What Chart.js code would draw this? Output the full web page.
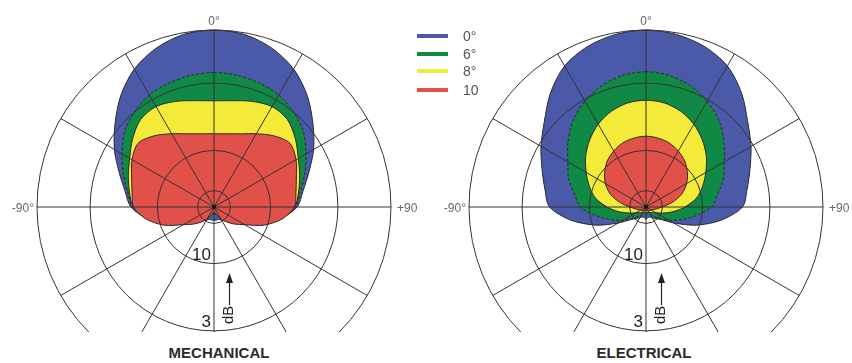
<!DOCTYPE html>
<html>
<head>
<meta charset="utf-8">
<script src="https://cdn.jsdelivr.net/npm/chart.js@4"></script>
<style>
body { margin: 0; background: #fff; font-family: "Liberation Sans", Arial, sans-serif; }
#wrap { position: relative; width: 852px; height: 363px; overflow: hidden; }
.clip { position: absolute; top: 0; height: 332px; overflow: hidden; }
.legend { position: absolute; left: 417px; top: 0; z-index: 5; }
.legend div { position: absolute; white-space: nowrap; }
.sw { width: 31px; height: 4px; }
.lt { left: 46px; font-size: 14px; line-height: 14px; color: #555; }
.title { position: absolute; top: 344px; width: 200px; text-align: center; font-weight: bold; font-size: 15px; color: #2b2b2b; }
</style>
</head>
<body>
<div id="wrap">
  <div class="clip" style="left:0;width:430px"><canvas id="mech" width="430" height="420"></canvas></div>
  <div class="clip" style="left:430px;width:422px"><canvas id="elec" width="422" height="420"></canvas></div>
  <div class="legend" id="legend"></div>
  <div class="title" style="left:119px">MECHANICAL</div>
  <div class="title" style="left:544px">ELECTRICAL</div>
</div>
<script>
// angles round the plot, 0 at top, clockwise (+90 on the right)
const angles = [0,10,20,30,40,50,60,70,80,90,100,110,120,130,140,150,160,170,
                180,190,200,210,220,230,240,250,260,270,280,290,300,310,320,330,340,350];

// relative level (linear, 1 = 0 dB at outer ring)
const mech0 = [1.0,0.99,0.955,0.9,0.82,0.73,0.65,0.57,0.51,0.47,0.38,0.28,0.19,0.14,0.10,0.085,0.075,0.075,
               0.075,0.075,0.075,0.085,0.10,0.14,0.19,0.28,0.38,0.47,0.51,0.57,0.65,0.73,0.82,0.9,0.955,0.99];
const mech6 = [0.76,0.755,0.745,0.73,0.70,0.66,0.60,0.545,0.495,0.46,0.37,0.27,0.18,0.13,0.09,0.06,0.045,0.04,
               0.04,0.04,0.045,0.06,0.09,0.13,0.18,0.27,0.37,0.46,0.495,0.545,0.60,0.66,0.70,0.73,0.745,0.755];
const mech8 = [0.60,0.61,0.635,0.655,0.645,0.60,0.55,0.515,0.485,0.455,0.36,0.26,0.17,0.12,0.08,0.055,0.04,0.035,
               0.035,0.035,0.04,0.055,0.08,0.12,0.17,0.26,0.36,0.455,0.485,0.515,0.55,0.60,0.645,0.655,0.635,0.61];
const mech10 = [0.414,0.42,0.44,0.478,0.525,0.56,0.535,0.495,0.47,0.455,0.39,0.30,0.20,0.15,0.11,0.08,0.05,0.035,
                0.03,0.035,0.05,0.08,0.11,0.15,0.20,0.30,0.39,0.455,0.47,0.495,0.535,0.56,0.525,0.478,0.44,0.42];

const elec0 = [1.0,0.99,0.965,0.92,0.84,0.75,0.685,0.625,0.58,0.545,0.43,0.30,0.18,0.11,0.085,0.07,0.06,0.06,
               0.07,0.06,0.06,0.07,0.085,0.11,0.18,0.30,0.43,0.545,0.58,0.625,0.685,0.75,0.84,0.92,0.965,0.99];
const elec6 = [0.764,0.755,0.73,0.69,0.64,0.575,0.51,0.465,0.41,0.37,0.285,0.21,0.15,0.10,0.07,0.05,0.04,0.04,
               0.04,0.04,0.04,0.05,0.07,0.10,0.15,0.21,0.285,0.37,0.41,0.465,0.51,0.575,0.64,0.69,0.73,0.755];
const elec8 = [0.603,0.597,0.575,0.54,0.495,0.445,0.39,0.34,0.29,0.22,0.155,0.10,0.065,0.05,0.04,0.035,0.03,0.03,
               0.03,0.03,0.03,0.035,0.04,0.05,0.065,0.10,0.155,0.22,0.29,0.34,0.39,0.445,0.495,0.54,0.575,0.597];
const elec10 = [0.40,0.395,0.385,0.365,0.34,0.305,0.265,0.215,0.15,0.09,0.06,0.045,0.035,0.03,0.03,0.025,0.02,0.02,
                0.02,0.02,0.02,0.025,0.03,0.03,0.035,0.045,0.06,0.09,0.15,0.215,0.265,0.305,0.34,0.365,0.385,0.395];

const seriesNames = ['0°', '6°', '8°', '10'];
const seriesColors = ['#4a5aa9', '#0f8944', '#f4ea3a', '#e2504a'];

// rings: 0 dB, 3 dB, 10 dB, 20 dB
const ringValues = [0, 0.093, 0.32, 0.70, 1];
const ringLabels = [['10', 0.32], ['3', 0.70]];

// legend
const legend = document.getElementById('legend');
const legendY = [36, 54, 71, 90];
seriesNames.forEach((n, i) => {
  legend.insertAdjacentHTML('beforeend',
    `<div class="sw" style="top:${legendY[i]-2}px;background:${seriesColors[i]}"></div>` +
    `<div class="lt" style="top:${legendY[i]-7}px">${n}</div>`);
});

const labelPlugin = {
  id: 'polarText',
  afterDraw(chart) {
    const s = chart.scales.r;
    const ctx = chart.ctx;
    const cx = s.xCenter, cy = s.yCenter, R = s.drawingArea;
    ctx.save();
    ctx.fillStyle = '#111';
    ctx.beginPath();
    ctx.arc(cx, cy, 2, 0, Math.PI * 2);
    ctx.fill();

    ctx.fillStyle = '#666';
    ctx.font = '12px "Liberation Sans", Arial, sans-serif';
    ctx.textAlign = 'center';
    ctx.textBaseline = 'bottom';
    ctx.fillText('0°', cx, cy - R - 2);
    ctx.textBaseline = 'middle';
    ctx.textAlign = 'right';
    ctx.fillText('-90°', cx - R - 3, cy + 2);
    ctx.textAlign = 'left';
    ctx.fillText('+90', cx + R + 6, cy + 2);

    ctx.fillStyle = '#222';
    ctx.font = '17px "Liberation Sans", Arial, sans-serif';
    ctx.textAlign = 'right';
    ctx.textBaseline = 'alphabetic';
    ringLabels.forEach(([t, v]) => {
      ctx.fillText(t, cx - 3, cy + s.getDistanceFromCenterForValue(v) - 4);
    });

    // dB with arrow
    ctx.save();
    ctx.translate(cx + 19, cy + 117);
    ctx.rotate(-Math.PI / 2);
    ctx.font = '15px "Liberation Sans", Arial, sans-serif';
    ctx.textAlign = 'left';
    ctx.fillText('dB', 0, 0);
    ctx.restore();
    ctx.strokeStyle = '#222';
    ctx.lineWidth = 1.2;
    ctx.beginPath();
    ctx.moveTo(cx + 15.5, cy + 98);
    ctx.lineTo(cx + 15.5, cy + 75);
    ctx.stroke();
    ctx.beginPath();
    ctx.moveTo(cx + 15.5, cy + 66);
    ctx.lineTo(cx + 12, cy + 76);
    ctx.lineTo(cx + 19, cy + 76);
    ctx.closePath();
    ctx.fill();
    ctx.restore();
  }
};

function makeChart(id, values, pad) {
  return new Chart(document.getElementById(id), {
    type: 'radar',
    data: {
      labels: angles,
      datasets: values.map((v, i) => ({
        label: seriesNames[i],
        data: v,
        order: 4 - i,
        fill: true,
        backgroundColor: seriesColors[i],
        borderColor: '#2a2a2a',
        borderWidth: 1,
        borderDash: i === 1 ? [3, 2] : [],
        tension: 0.3,
        pointRadius: 0,
        pointHitRadius: 0
      }))
    },
    options: {
      responsive: false,
      animation: false,
      layout: { padding: pad },
      plugins: { legend: { display: false }, tooltip: { enabled: false } },
      scales: {
        r: {
          min: 0,
          max: 1,
          afterBuildTicks: (scale) => { scale.ticks = ringValues.map(v => ({ value: v })); },
          ticks: { display: false },
          pointLabels: { display: false },
          grid: { circular: true, color: '#333', lineWidth: 1, z: 1 },
          angleLines: { color: '#333', lineWidth: (c) => (c.index % 3 === 0 ? 1 : 0) }
        }
      }
    },
    plugins: [labelPlugin]
  });
}

makeChart('mech', [mech0, mech6, mech8, mech10], { left: 37, right: 39, top: 30, bottom: 36 });
makeChart('elec', [elec0, elec6, elec8, elec10], { left: 39, right: 29, top: 30, bottom: 36 });
</script>
</body>
</html>
